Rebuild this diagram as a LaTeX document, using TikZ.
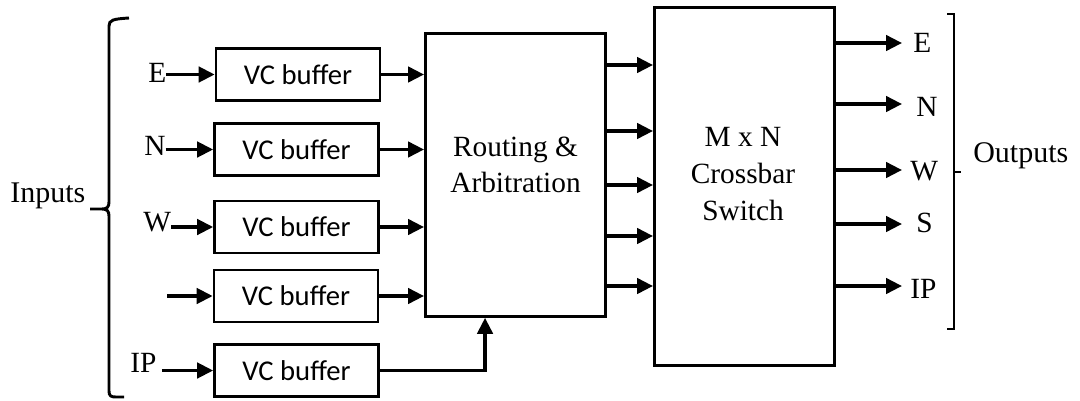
\documentclass[tikz,border=0pt]{standalone}
\usepackage{fontspec}
\setmainfont{Liberation Serif}
\newfontfamily\calibri{Carlito}
\usetikzlibrary{arrows.meta,calc}
\begin{document}
\begin{tikzpicture}[x=0.75pt,y=-0.75pt,
  lbl/.style={font=\fontsize{22}{27.5}\selectfont, inner sep=0pt},
  vcbox/.style={draw, line width=2pt, minimum width=123pt, minimum height=39pt,
    inner sep=0pt, font=\calibri\fontsize{21.5}{26}\selectfont},
  bigbox/.style={draw, line width=2.2pt, inner sep=0pt},
  arr/.style={line width=2.6pt, -{Triangle[length=12pt,width=11.5pt]}},
  brk/.style={line width=2.2pt}]
\useasboundingbox (0,0) rectangle (1080,400);

% input buffers
\node[vcbox] (b1) at (298,74.5) {VC buffer};
\node[vcbox] (b2) at (296.5,149.5) {VC buffer};
\node[vcbox] (b3) at (296.5,227) {VC buffer};
\node[vcbox] (b4) at (296,296) {VC buffer};
\node[vcbox] (b5) at (296.5,370.5) {VC buffer};

% routing unit and crossbar
\node[bigbox, minimum width=135pt, minimum height=212pt] (rt) at (515.5,175) {};
\node[lbl, align=center] (rtT) at (515.5,165) {Routing \&\\Arbitration};
\node[bigbox, minimum width=135pt, minimum height=268.5pt] (xb) at (744.5,186.5) {};
\node[lbl, align=center] (xbT) at (743,174) {M x N\\Crossbar\\Switch};

% input port labels
\node[lbl, anchor=base west] (iE) at (148,82) {E};
\node[lbl, anchor=base west] (iN) at (144,155) {N};
\node[lbl, anchor=base west] (iW) at (143,231) {W};
\node[lbl, anchor=base west] (iIP) at (130,372) {IP};
\coordinate (i4) at (167,296);
\node[lbl, anchor=base west, font=\fontsize{22.5}{27}\selectfont] (inputs) at (10,202) {Inputs};

% ports into buffers
\draw[arr] (iE.east |- b1.west) -- (b1.west);
\draw[arr] (iN.east |- b2.west) -- (b2.west);
\draw[arr] (iW.east |- b3.west) -- (b3.west);
\draw[arr] (i4 |- b4.west) -- (b4.west);
\draw[arr] ([xshift=4pt]iIP.east |- b5.west) -- (b5.west);

% buffers into routing
\draw[arr] (b1.east) -- (b1.east -| rt.west);
\draw[arr] (b2.east) -- (b2.east -| rt.west);
\draw[arr] (b3.east) -- (b3.east -| rt.west);
\draw[arr] (b4.east) -- (b4.east -| rt.west);
\coordinate (rtin) at ($(rt.south west)+(61,0)$);
\draw[arr] (b5.east) -| (rtin);

% routing into crossbar
\foreach \yy in {65,131,185,236,286}
  \draw[arr] (rt.east |- 0,\yy) -- (xb.west |- 0,\yy);

% output ports
\node[lbl, anchor=base west] (oE) at (913,52) {E};
\node[lbl, anchor=base west] (oN) at (916,116) {N};
\node[lbl, anchor=base west] (oW) at (910,180) {W};
\node[lbl, anchor=base west] (oS) at (916,232) {S};
\node[lbl, anchor=base west] (oIP) at (910,298) {IP};
\coordinate (tE) at (902,43);
\coordinate (tN) at (902,104);
\coordinate (tW) at (902,170);
\coordinate (tS) at (902,224);
\coordinate (tIP) at (902,286);
\foreach \t in {tE,tN,tW,tS,tIP}
  \draw[arr] (xb.east |- \t) -- (\t);
\node[lbl, anchor=base west, font=\fontsize{22.5}{27}\selectfont] (outputs) at (973,162) {Outputs};

% input brace
\draw[brk] (129,18) .. controls (113,19) and (109,20) .. (109,26) -- (109,202)
  .. controls (109,207) and (107,209) .. (102,209) -- (90,209)
  (102,209) .. controls (107,209) and (109,211) .. (109,216) -- (109,391)
  .. controls (109,396) and (111,397) .. (116,397) -- (124,397);

% output bracket
\draw[brk] (947,14) -- (954,14) -- (954,329) -- (947,329);
\draw[brk] (954,172) -- (961,172);
\end{tikzpicture}
\end{document}
